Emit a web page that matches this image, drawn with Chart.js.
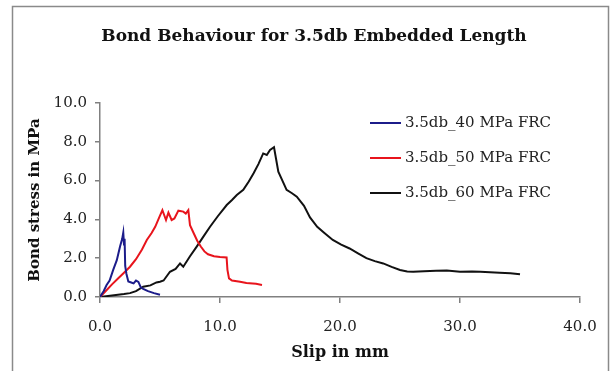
<!DOCTYPE html>
<html>
<head>
<meta charset="utf-8">
<script src="https://cdn.jsdelivr.net/npm/chart.js@4/dist/chart.umd.min.js"></script>
<style>
  html, body { margin: 0; padding: 0; background: #fff; }
  #wrap { width: 613px; height: 371px; position: relative; }
</style>
</head>
<body>
<div id="wrap"><canvas id="bondChart"></canvas></div>
<script>
// series labels
const chartTitle = "Bond Behaviour for 3.5db Embedded Length";
const seriesLabels = ["3.5db_40 MPa FRC", "3.5db_50 MPa FRC", "3.5db_60 MPa FRC"];

// 40 MPa FRC - slip (mm) / bond stress (MPa)
const slip40 = [0, 0.3, 0.55, 0.8, 1.1, 1.4, 1.67, 1.85, 1.94, 2.0, 2.05, 2.1, 2.2, 2.36, 2.6, 2.8, 3.0, 3.2, 3.4, 3.6, 4.0, 4.5, 5.0];
const stress40 = [0, 0.3, 0.62, 0.85, 1.4, 1.9, 2.6, 3.0, 3.32, 2.7, 3.0, 1.6, 1.2, 0.8, 0.75, 0.7, 0.85, 0.78, 0.5, 0.42, 0.3, 0.2, 0.12];

// 50 MPa FRC
const slip50 = [0, 0.5, 1.0, 1.5, 2.0, 2.5, 3.0, 3.5, 3.9, 4.3, 4.6, 4.9, 5.2, 5.5, 5.7, 5.97, 6.2, 6.53, 6.94, 7.15, 7.36, 7.5, 7.8, 8.1, 8.4, 8.7, 9.0, 9.5, 10.0, 10.55, 10.62, 10.75, 11.0, 11.67, 12.2, 13.0, 13.5];
const stress50 = [0, 0.32, 0.65, 0.95, 1.25, 1.56, 1.95, 2.45, 2.94, 3.3, 3.62, 4.05, 4.48, 3.97, 4.35, 3.97, 4.05, 4.45, 4.4, 4.3, 4.48, 3.7, 3.3, 2.9, 2.6, 2.35, 2.2, 2.1, 2.06, 2.04, 1.4, 0.96, 0.85, 0.79, 0.72, 0.68, 0.62];

// 60 MPa FRC
const slip60 = [0, 1.0, 2.0, 2.5, 3.0, 3.6, 4.2, 4.7, 5.0, 5.3, 5.83, 6.3, 6.67, 6.94, 7.5, 8.06, 8.6, 9.17, 9.8, 10.56, 11.0, 11.4, 11.94, 12.4, 12.8, 13.2, 13.6, 13.9, 14.17, 14.5, 14.86, 15.2, 15.55, 16.0, 16.4, 17.0, 17.5, 18.1, 18.7, 19.4, 20.1, 20.8, 21.5, 22.2, 22.9, 23.6, 24.3, 25.0, 25.6, 26.1, 27.0, 28.0, 28.9, 30.0, 31.0, 31.7, 32.5, 33.3, 34.2, 35.0];
const stress60 = [0, 0.08, 0.15, 0.2, 0.3, 0.53, 0.6, 0.75, 0.79, 0.85, 1.3, 1.45, 1.73, 1.56, 2.1, 2.6, 3.1, 3.62, 4.15, 4.74, 5.0, 5.26, 5.52, 5.95, 6.38, 6.85, 7.4, 7.32, 7.58, 7.72, 6.46, 6.0, 5.52, 5.35, 5.17, 4.7, 4.1, 3.62, 3.3, 2.94, 2.7, 2.5, 2.25, 2.0, 1.85, 1.73, 1.55, 1.39, 1.32, 1.3, 1.33, 1.35, 1.36, 1.3, 1.32, 1.3, 1.27, 1.25, 1.22, 1.17];

const seriesColors = ["#1c1c8a", "#e8141c", "#111111"];

function toPoints(xs, ys) {
    return xs.map((x, i) => ({ x: x, y: ys[i] }));
}

const serif = "'DejaVu Serif', serif";

// title, legend inside the plot, and the outer frame
const framePlugin = {
    id: "frameAndLegend",
    afterDraw(chart) {
        const ctx = chart.ctx;
        ctx.save();
        ctx.strokeStyle = "#8a8a8a";
        ctx.lineWidth = 1.5;
        ctx.strokeRect(12.5, 6.5, 596, 380);

        ctx.fillStyle = "#111";
        ctx.font = "bold 17px " + serif;
        ctx.textAlign = "center";
        ctx.textBaseline = "middle";
        ctx.fillText(chartTitle, 314, 37);

        ctx.textAlign = "left";
        ctx.font = "15px " + serif;
        ctx.fillStyle = "#222";
        chart.data.datasets.forEach((ds, i) => {
            const y = 123 + 35 * i;
            ctx.strokeStyle = ds.borderColor;
            ctx.lineWidth = 2;
            ctx.beginPath();
            ctx.moveTo(370, y);
            ctx.lineTo(401, y);
            ctx.stroke();
            ctx.fillText(ds.label, 405, y);
        });
        ctx.restore();
    }
};

document.addEventListener("DOMContentLoaded", function () {
    const ctx = document.getElementById("bondChart").getContext("2d");

    new Chart(ctx, {
        type: "scatter",
        data: {
            datasets: [
                {
                    label: seriesLabels[0],
                    data: toPoints(slip40, stress40),
                    borderColor: seriesColors[0],
                    showLine: true,
                    borderWidth: 2,
                    pointRadius: 0
                },
                {
                    label: seriesLabels[1],
                    data: toPoints(slip50, stress50),
                    borderColor: seriesColors[1],
                    showLine: true,
                    borderWidth: 2,
                    pointRadius: 0
                },
                {
                    label: seriesLabels[2],
                    data: toPoints(slip60, stress60),
                    borderColor: seriesColors[2],
                    showLine: true,
                    borderWidth: 2,
                    pointRadius: 0
                }
            ]
        },
        options: {
            responsive: true,
            maintainAspectRatio: false,
            animation: false,
            layout: {
                padding: { left: 0, right: 33, top: 103, bottom: 0 }
            },
            plugins: {
                legend: { display: false },
                tooltip: { enabled: false },
                title: { display: false }
            },
            scales: {
                x: {
                    type: "linear",
                    min: 0,
                    max: 40,
                    afterFit: function (scale) { scale.height = 74; },
                    ticks: {
                        stepSize: 10,
                        color: "#222",
                        padding: 15,
                        maxRotation: 0,
                        font: { family: serif, size: 15 },
                        callback: v => v.toFixed(1)
                    },
                    grid: { drawOnChartArea: false, drawTicks: true, tickLength: 6, color: "#808080", lineWidth: 1.5 },
                    border: { color: "#808080", width: 1.5 },
                    title: {
                        display: true,
                        text: "Slip in mm",
                        color: "#111",
                        font: { family: serif, size: 16, weight: "bold" },
                        padding: { top: 0, bottom: 9 }
                    }
                },
                y: {
                    type: "linear",
                    min: 0,
                    max: 10,
                    afterFit: function (scale) { scale.width = 100; },
                    ticks: {
                        stepSize: 2,
                        color: "#222",
                        padding: 8,
                        font: { family: serif, size: 15 },
                        callback: v => v.toFixed(1)
                    },
                    grid: { drawOnChartArea: false, drawTicks: true, tickLength: 5, color: "#808080", lineWidth: 1.5 },
                    border: { color: "#808080", width: 1.5 },
                    title: {
                        display: true,
                        text: "Bond stress in MPa",
                        color: "#111",
                        font: { family: serif, size: 15, weight: "bold" },
                        padding: { top: 26, bottom: 0 }
                    }
                }
            }
        },
        plugins: [framePlugin]
    });
});
</script>
</body>
</html>
